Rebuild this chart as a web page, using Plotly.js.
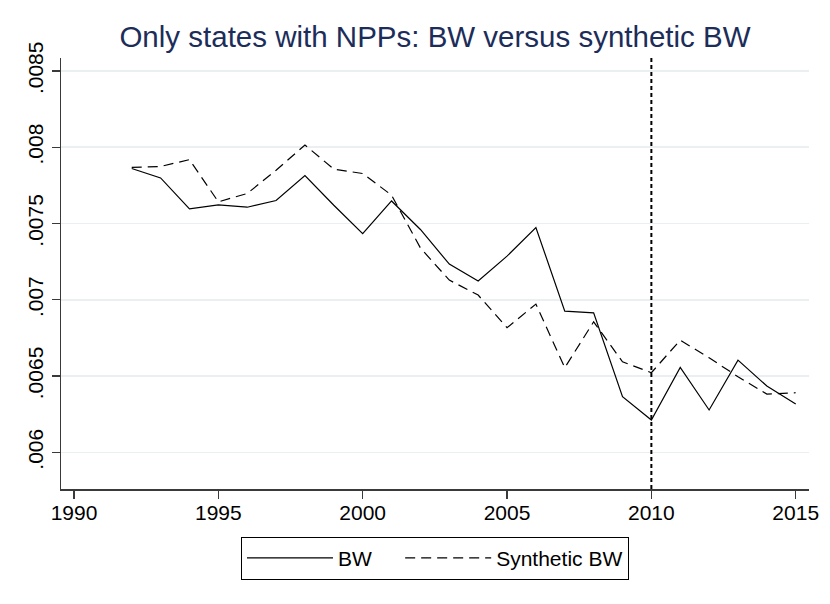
<!DOCTYPE html>
<html>
<head>
<meta charset="utf-8">
<script src="https://cdn.plot.ly/plotly-3.0.1.min.js"></script>
<style>
  html, body { margin: 0; padding: 0; background: #fff; }
  #chart { width: 830px; height: 604px; }
</style>
</head>
<body>
<div id="chart"></div>
<script>
// Data
const years = [1992, 1993, 1994, 1995, 1996, 1997, 1998, 1999, 2000, 2001, 2002, 2003,
               2004, 2005, 2006, 2007, 2008, 2009, 2010, 2011, 2012, 2013, 2014, 2015];

const bw = [0.007861, 0.007799, 0.007596, 0.007622, 0.007607, 0.007651, 0.007815, 0.007620,
            0.007434, 0.007648, 0.007461, 0.007234, 0.007124, 0.007286, 0.007474, 0.006926,
            0.006915, 0.006365, 0.006212, 0.006557, 0.006278, 0.006605, 0.006435, 0.006317];

const synthBw = [0.007868, 0.007874, 0.007919, 0.007642, 0.007697, 0.007849, 0.008015, 0.007856,
                 0.007828, 0.007686, 0.007340, 0.007129, 0.007031, 0.006817, 0.006972, 0.006555,
                 0.006856, 0.006594, 0.006522, 0.006736, 0.006620, 0.006496, 0.006382, 0.006391];

const yTickVals = [0.006, 0.0065, 0.007, 0.0075, 0.008, 0.0085];
const yTickText = [".006", ".0065", ".007", ".0075", ".008", ".0085"];
const xTickVals = [1990, 1995, 2000, 2005, 2010, 2015];
const treatYear = 2010;

const FONT = "Liberation Sans, Arial, Helvetica, sans-serif";
const GRID = "#eaf0f2";
const AXIS = "#3a3a3a";
const NBSP = "\u00a0";

const traces = [
  {
    type: "scatter",
    mode: "lines",
    name: "BW" + NBSP.repeat(4),   // extra room between the two legend keys
    x: years,
    y: bw,
    line: { color: "#000", width: 1.2 },
  },
  {
    type: "scatter",
    mode: "lines",
    name: "Synthetic BW",
    x: years,
    y: synthBw,
    line: { color: "#000", width: 1.2, dash: "10px,6px" },
  },
];

const layout = {
  width: 830,
  height: 604,
  paper_bgcolor: "#fff",
  plot_bgcolor: "#fff",
  font: { family: FONT, color: "#000", size: 21 },
  margin: { l: 61, r: 21, t: 58, b: 115 },
  title: {
    text: "Only states with NPPs: BW versus synthetic BW",
    font: { family: FONT, size: 29.5, color: "#1c2d5a" },
    x: 0.5,
    xref: "paper",
    xanchor: "center",
    y: 1 - 37 / 604,
    yref: "container",
    yanchor: "middle",
  },
  xaxis: {
    range: [1989.55, 2015.46],
    tickvals: xTickVals,
    ticks: "outside",
    ticklen: 8,
    tickwidth: 1.3,
    tickcolor: AXIS,
    ticklabelstandoff: -4,
    showline: true,
    linecolor: AXIS,
    linewidth: 1.5,
    showgrid: false,
    zeroline: false,
    tickfont: { size: 21 },
  },
  yaxis: {
    range: [0.00576, 0.008585],
    tickvals: yTickVals,
    ticktext: yTickText,
    tickangle: -90,
    ticks: "outside",
    ticklen: 8,
    tickwidth: 1.3,
    tickcolor: AXIS,
    showline: true,
    linecolor: AXIS,
    linewidth: 1.5,
    showgrid: true,
    gridcolor: GRID,
    gridwidth: 1.6,
    zeroline: false,
    tickfont: { size: 21 },
  },
  shapes: [
    {
      type: "line",
      xref: "x",
      yref: "paper",
      x0: treatYear, x1: treatYear,
      y0: 0, y1: 1,
      line: { color: "#000", width: 2, dash: "4px,3px" },
    },
  ],
  showlegend: true,
  legend: {
    orientation: "h",
    x: 0.5,
    xanchor: "center",
    xref: "paper",
    y: -0.1106,
    yanchor: "top",
    bordercolor: "#000",
    borderwidth: 1,
    bgcolor: "#fff",
    font: { size: 21 },
    itemwidth: 86,
    traceorder: "normal",
  },
};

Plotly.newPlot("chart", traces, layout, { displayModeBar: false, staticPlot: true });
</script>
</body>
</html>
